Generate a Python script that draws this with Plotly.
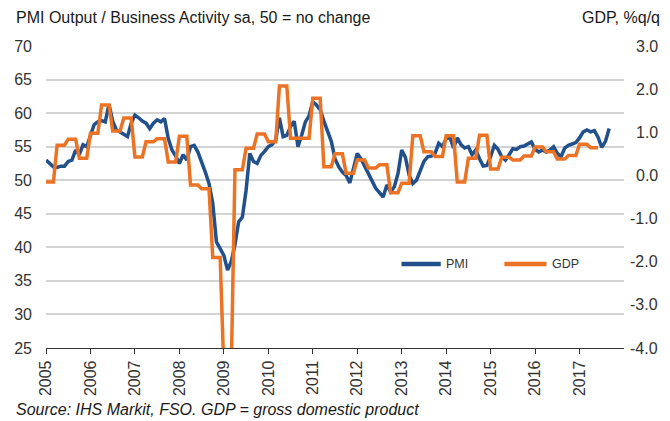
import numpy as np
import plotly.graph_objects as go

# ---- data -------------------------------------------------------------
start_year = 2005
year_ticks = [str(y) for y in range(2005, 2018)]
gdp_tick_vals = [-4, -3, -2, -1, 0, 1, 2, 3]
gdp_tick_text = ["-4.0", "-3.0", "-2.0", "-1.0", "0.0", "1.0", "2.0", "3.0"]

# monthly PMI Output / Business Activity (Jan 2005 - Sep 2017)
pmi_2005 = [53.0, 52.5, 52.0, 51.9, 52.1, 52.1, 52.8, 53.0, 54.5, 53.8, 55.3, 55.0]
pmi_2006 = [56.8, 58.3, 58.7, 58.9, 58.7, 61.3, 58.8, 57.5, 57.2, 56.8, 56.5, 58.5]
pmi_2007 = [59.7, 59.3, 58.8, 58.5, 57.7, 58.5, 59.0, 58.7, 59.2, 56.2, 54.5, 53.6]
pmi_2008 = [52.5, 53.8, 53.0, 55.0, 55.2, 54.2, 52.8, 51.2, 49.5, 46.6, 40.8, 39.7]
pmi_2009 = [38.8, 36.6, 37.9, 40.4, 43.8, 44.5, 48.5, 54.0, 52.8, 52.5, 53.7, 54.3]
pmi_2010 = [55.0, 55.3, 56.0, 59.3, 56.5, 56.7, 58.0, 58.8, 55.0, 56.7, 58.7, 59.6]
pmi_2011 = [61.7, 61.2, 60.5, 58.8, 57.4, 55.8, 53.2, 52.0, 51.2, 50.7, 49.6, 52.0]
pmi_2012 = [54.0, 53.2, 52.0, 51.0, 49.9, 48.8, 48.1, 47.5, 49.3, 48.3, 49.0, 51.0]
pmi_2013 = [54.5, 53.4, 50.8, 49.5, 50.0, 51.5, 52.8, 53.5, 53.6, 54.0, 55.5, 55.0]
pmi_2014 = [56.2, 56.4, 54.8, 56.3, 55.3, 54.8, 55.0, 53.8, 54.5, 53.2, 52.1, 52.2]
pmi_2015 = [53.5, 55.2, 54.6, 53.5, 53.0, 53.8, 54.7, 54.6, 55.0, 55.1, 55.4, 55.7]
pmi_2016 = [54.6, 54.2, 54.5, 54.2, 54.5, 55.0, 54.0, 53.5, 54.8, 55.2, 55.4, 55.6]
pmi_2017 = [56.3, 57.2, 57.5, 57.2, 57.4, 56.4, 54.9, 55.8, 57.7]

# quarterly GDP, % q/q (2005Q1 - 2017Q2)
gdp_2005 = [-0.15, 0.70, 0.84, 0.40]
gdp_2006 = [0.98, 1.63, 1.03, 1.33]
gdp_2007 = [0.43, 0.78, 0.85, 0.31]
gdp_2008 = [0.91, -0.22, -0.31, -1.90]
gdp_2009 = [-4.5, 0.13, 0.63, 0.96]
gdp_2010 = [0.78, 2.07, 0.86, 0.86]
gdp_2011 = [1.79, 0.20, 0.50, 0.05]
gdp_2012 = [0.36, 0.17, 0.25, -0.40]
gdp_2013 = [-0.18, 0.92, 0.55, 0.44]
gdp_2014 = [0.92, -0.15, 0.40, 0.93]
gdp_2015 = [0.15, 0.42, 0.36, 0.45]
gdp_2016 = [0.66, 0.55, 0.38, 0.46]
gdp_2017 = [0.72, 0.64]

pmi = (pmi_2005 + pmi_2006 + pmi_2007 + pmi_2008 + pmi_2009 + pmi_2010 + pmi_2011
       + pmi_2012 + pmi_2013 + pmi_2014 + pmi_2015 + pmi_2016 + pmi_2017)
gdp_q = (gdp_2005 + gdp_2006 + gdp_2007 + gdp_2008 + gdp_2009 + gdp_2010 + gdp_2011
         + gdp_2012 + gdp_2013 + gdp_2014 + gdp_2015 + gdp_2016 + gdp_2017)

# monthly time axis; quarterly GDP shown at each month of its quarter
x_pmi = start_year + np.arange(len(pmi)) / 12.0
gdp_m = np.repeat(gdp_q, 3)
x_gdp = start_year + np.arange(len(gdp_m)) / 12.0

BLUE = "#22508a"
ORANGE = "#eb7323"
FONT = "Arial, Liberation Sans, sans-serif"

fig = go.Figure()
fig.add_trace(go.Scatter(x=x_pmi, y=pmi, name="PMI", mode="lines",
                         line=dict(color=BLUE, width=3.5), yaxis="y"))
fig.add_trace(go.Scatter(x=x_gdp, y=gdp_m, name="GDP", mode="lines",
                         line=dict(color=ORANGE, width=3.5), yaxis="y2"))

# page body has an 8px margin, so the figure is sized/offset to compensate
fig.update_layout(
    width=662, height=413,
    margin=dict(l=38, r=45.5, t=38, b=73, autoexpand=False),
    paper_bgcolor="white", plot_bgcolor="white",
    showlegend=False,
    font=dict(family=FONT, size=16, color="#333333"),
    xaxis=dict(
        range=[2005, 2018], tickmode="array",
        tickvals=[int(t) for t in year_ticks], ticktext=year_ticks,
        tickangle=-90, ticks="outside", ticklen=5, tickcolor="#333333",
        showline=True, linecolor="#333333", linewidth=1.2,
        showgrid=False, zeroline=False, automargin=False,
        tickfont=dict(size=16, color="#333333"),
    ),
    yaxis=dict(
        range=[25, 70], dtick=5, tick0=25,
        showgrid=True, gridcolor="#d3d3d3", gridwidth=1.5,
        zeroline=False, showline=False, ticks="", automargin=False,
        ticklabelstandoff=13,
        tickfont=dict(size=16, color="#333333"),
    ),
    yaxis2=dict(
        range=[-4, 3], tickmode="array", tickvals=gdp_tick_vals,
        overlaying="y", side="right", showgrid=False, zeroline=False,
        showline=False, ticks="", automargin=False, showticklabels=False,
    ),
)

# right-axis labels (right-aligned, as in the original)
for v, t in zip(gdp_tick_vals, gdp_tick_text):
    fig.add_annotation(text=t, xref="paper", yref="y2", x=1.063, y=v,
                       xanchor="right", yanchor="middle", showarrow=False,
                       font=dict(size=16, color="#333333"))

# titles & source
fig.add_annotation(text="PMI Output / Business Activity sa, 50 = no change",
                   xref="paper", yref="paper", x=-0.055, y=1.093,
                   xanchor="left", yanchor="middle", showarrow=False,
                   font=dict(size=16, color="#1a1a1a"))
fig.add_annotation(text="GDP, %q/q",
                   xref="paper", yref="paper", x=1.066, y=1.093,
                   xanchor="right", yanchor="middle", showarrow=False,
                   font=dict(size=16, color="#1a1a1a"))
fig.add_annotation(text="<i>Source: IHS Markit, FSO. GDP = gross domestic product</i>",
                   xref="paper", yref="paper", x=-0.055, y=-0.205,
                   xanchor="left", yanchor="middle", showarrow=False,
                   font=dict(size=16, color="#1a1a1a"))

# in-plot legend
leg_y = 0.278
for x0, x1, col, label in [(0.615, 0.683, BLUE, "PMI"), (0.793, 0.866, ORANGE, "GDP")]:
    fig.add_shape(type="line", xref="paper", yref="paper", x0=x0, x1=x1,
                  y0=leg_y, y1=leg_y, line=dict(color=col, width=4.5))
    fig.add_annotation(text=label, xref="paper", yref="paper", x=x1 + 0.006, y=leg_y,
                       xanchor="left", yanchor="middle", showarrow=False,
                       font=dict(size=12.5, color="#333333"))

fig.write_html("out.html")
